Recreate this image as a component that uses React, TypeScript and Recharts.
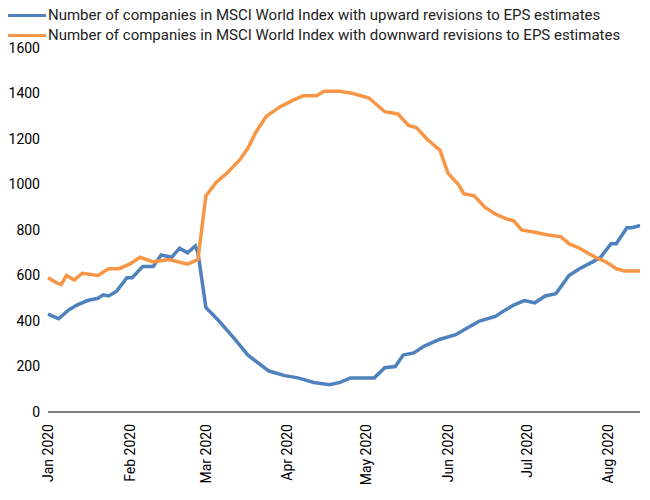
import React from 'react';
import { LineChart, Line, XAxis, YAxis } from 'recharts';

// day of year (Jan 1 = 0) and values
const upDays = [0, 4, 8, 11, 15, 19, 21, 23, 26, 30, 32, 36, 40, 43, 47, 50, 53, 56, 57, 60, 65, 71, 76, 84, 90, 95, 101, 107, 111, 115, 120, 124, 128, 132, 135, 139, 143, 149, 155, 158, 164, 170, 174, 177, 181, 185, 189, 193, 198, 202, 207, 210, 214, 216, 220, 222, 225];
const upValues = [430, 410, 450, 470, 490, 500, 515, 510, 530, 590, 590, 640, 640, 690, 680, 720, 700, 730, 700, 460, 400, 320, 250, 180, 160, 150, 130, 120, 130, 150, 150, 150, 195, 200, 250, 260, 290, 320, 340, 360, 400, 420, 450, 470, 490, 480, 510, 520, 600, 630, 660, 680, 740, 740, 810, 810, 820];

const downDays = [0, 3, 5, 7, 10, 13, 19, 23, 27, 31, 35, 40, 46, 53, 57, 60, 64, 68, 73, 76, 79, 83, 88, 93, 97, 102, 105, 111, 116, 122, 128, 133, 137, 140, 144, 149, 152, 156, 158, 162, 166, 170, 174, 177, 180, 185, 189, 195, 198, 202, 208, 212, 216, 219, 225];
const downValues = [590, 570, 560, 600, 580, 610, 600, 630, 630, 650, 680, 660, 670, 650, 670, 950, 1010, 1050, 1110, 1160, 1230, 1300, 1340, 1370, 1390, 1390, 1410, 1410, 1400, 1380, 1320, 1310, 1260, 1250, 1200, 1150, 1050, 1000, 960, 950, 900, 870, 850, 840, 800, 790, 780, 770, 740, 720, 680, 660, 630, 620, 620];

const monthDays = [0, 31, 60, 91, 121, 152, 182, 213];
const monthLabels = ['Jan 2020', 'Feb 2020', 'Mar 2020', 'Apr 2020', 'May 2020', 'Jun 2020', 'Jul 2020', 'Aug 2020'];
const yTicks = [0, 200, 400, 600, 800, 1000, 1200, 1400, 1600];

const seriesNames = [
  'Number of companies in MSCI World Index with upward revisions to EPS estimates',
  'Number of companies in MSCI World Index with downward revisions to EPS estimates',
];
const BLUE = '#4f81bd';
const ORANGE = '#f79646';

const upData = upDays.map((d, i) => ({ day: d, v: upValues[i] }));
const downData = downDays.map((d, i) => ({ day: d, v: downValues[i] }));

const XTick = (props: any) => {
  const { x, y, payload } = props;
  const idx = monthDays.indexOf(payload.value);
  return (
    <text x={x} y={y + 4} transform={`rotate(-90 ${x} ${y + 4})`} textAnchor="end" dy={5} fontSize={14} fill="#000">
      {monthLabels[idx]}
    </text>
  );
};

export default function App() {
  return (
    <div style={{ position: 'relative', width: 634, height: 484, fontFamily: 'Roboto, sans-serif' }}>
      <div style={{ position: 'absolute', left: 0, top: -3, fontSize: 15, lineHeight: '20px', color: '#222', whiteSpace: 'nowrap' }}>
        {seriesNames.map((n, i) => (
          <div key={n} style={{ display: 'flex', alignItems: 'center' }}>
            <span style={{ display: 'inline-block', width: 38, height: 3, background: i === 0 ? BLUE : ORANGE, marginRight: 2 }} />
            {n}
          </div>
        ))}
      </div>
      <LineChart width={634} height={484} margin={{ top: 40, right: 2, left: 0, bottom: 0 }}>
        <XAxis
          dataKey="day"
          type="number"
          domain={[0, 225]}
          ticks={monthDays}
          tick={<XTick />}
          height={80}
          stroke="#000"
          tickLine={false}
          allowDuplicatedCategory={false}
        />
        <YAxis
          type="number"
          domain={[0, 1600]}
          ticks={yTicks}
          width={40}
          axisLine={false}
          tickLine={false}
          tick={{ fontSize: 14, fill: '#000' }}
          interval={0}
        />
        <Line data={upData} dataKey="v" stroke={BLUE} strokeWidth={3.5} dot={false} isAnimationActive={false} />
        <Line data={downData} dataKey="v" stroke={ORANGE} strokeWidth={3.5} dot={false} isAnimationActive={false} />
      </LineChart>
    </div>
  );
}
